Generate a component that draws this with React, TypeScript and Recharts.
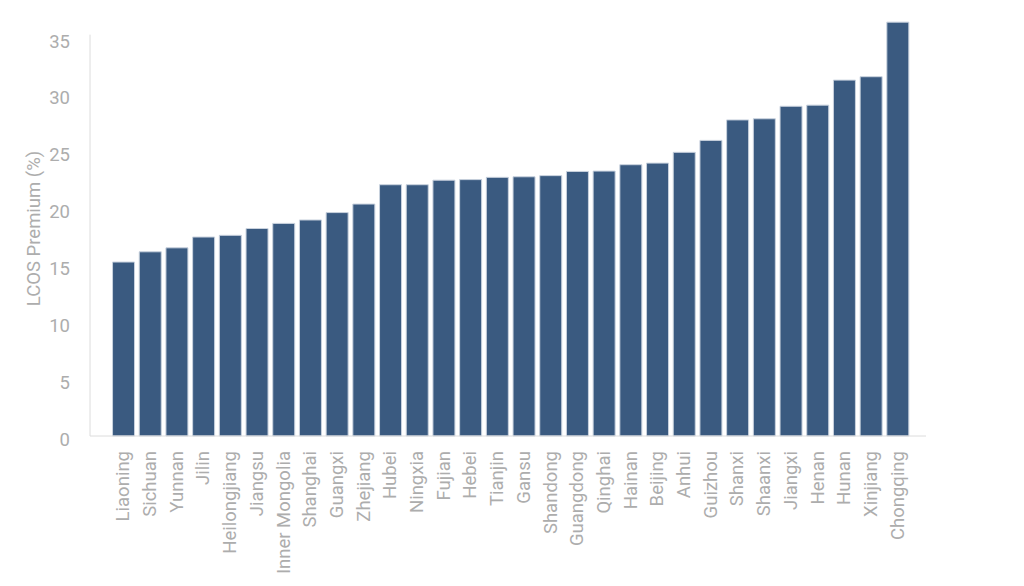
import { Bar, BarChart, ReferenceLine, XAxis, YAxis } from "recharts";

const provinces = [
  "Liaoning", "Sichuan", "Yunnan", "Jilin", "Heilongjiang", "Jiangsu",
  "Inner Mongolia", "Shanghai", "Guangxi", "Zhejiang", "Hubei", "Ningxia",
  "Fujian", "Hebei", "Tianjin", "Gansu", "Shandong", "Guangdong", "Qinghai",
  "Hainan", "Beijing", "Anhui", "Guizhou", "Shanxi", "Shaanxi", "Jiangxi",
  "Henan", "Hunan", "Xinjiang", "Chongqing",
];

const premium = [
  15.3, 16.2, 16.55, 17.5, 17.65, 18.25, 18.7, 19.0, 19.65, 20.4, 22.1, 22.1,
  22.5, 22.55, 22.75, 22.8, 22.9, 23.27, 23.3, 23.86, 24.0, 24.95, 26.0, 27.8,
  27.9, 29.0, 29.1, 31.3, 31.6, 36.4,
];

const yTicks = [0, 5, 10, 15, 20, 25, 30, 35];

const data = provinces.map((name, i) => ({ name, value: premium[i] }));

const FONT = "Roboto, 'Noto Sans', sans-serif";
const GREY = "#adadad";
const LINE = "#dcdcdc";
const SIZE = 18.5;

/** Rotated province label, anchored at its end just below the axis. */
function ProvinceTick({ x, y, payload }: any) {
  return (
    <text
      x={x}
      y={y}
      transform={`rotate(-90, ${x}, ${y})`}
      textAnchor="end"
      dominantBaseline="central"
      fill={GREY}
      fontSize={SIZE}
      fontFamily={FONT}
    >
      {payload.value}
    </text>
  );
}

export default function App() {
  return (
    <div style={{ position: "absolute", left: 0, top: 0, background: "#fff" }}>
      <BarChart
        width={1024}
        height={586}
        data={data}
        margin={{ top: 21, right: 98, bottom: 0, left: 0 }}
        barCategoryGap="9.5%"
      >
        <XAxis
          dataKey="name"
          interval={0}
          height={150}
          padding={{ left: 20, right: 15 }}
          axisLine={{ stroke: LINE }}
          tickLine={false}
          tickMargin={9}
          tick={<ProvinceTick />}
        />
        <XAxis xAxisId="edge" type="number" domain={[0, 1]} hide />
        <YAxis
          width={90}
          domain={[0, 36.5]}
          ticks={yTicks}
          axisLine={false}
          tickLine={false}
          tickMargin={14}
          tick={{ fill: GREY, fontSize: SIZE, fontFamily: FONT, dy: 3 }}
          label={{
            value: "LCOS Premium (%)",
            angle: -90,
            position: "center",
            dx: -12,
            fill: GREY,
            fontSize: SIZE,
            fontFamily: FONT,
          }}
        />
        <ReferenceLine
          xAxisId="edge"
          segment={[
            { x: 0, y: 0 },
            { x: 0, y: 35.3 },
          ]}
          stroke={LINE}
          ifOverflow="visible"
        />
        <Bar
          dataKey="value"
          fill="#3a5a80"
          stroke="#c9d2de"
          strokeWidth={1}
          isAnimationActive={false}
        />
      </BarChart>
    </div>
  );
}
